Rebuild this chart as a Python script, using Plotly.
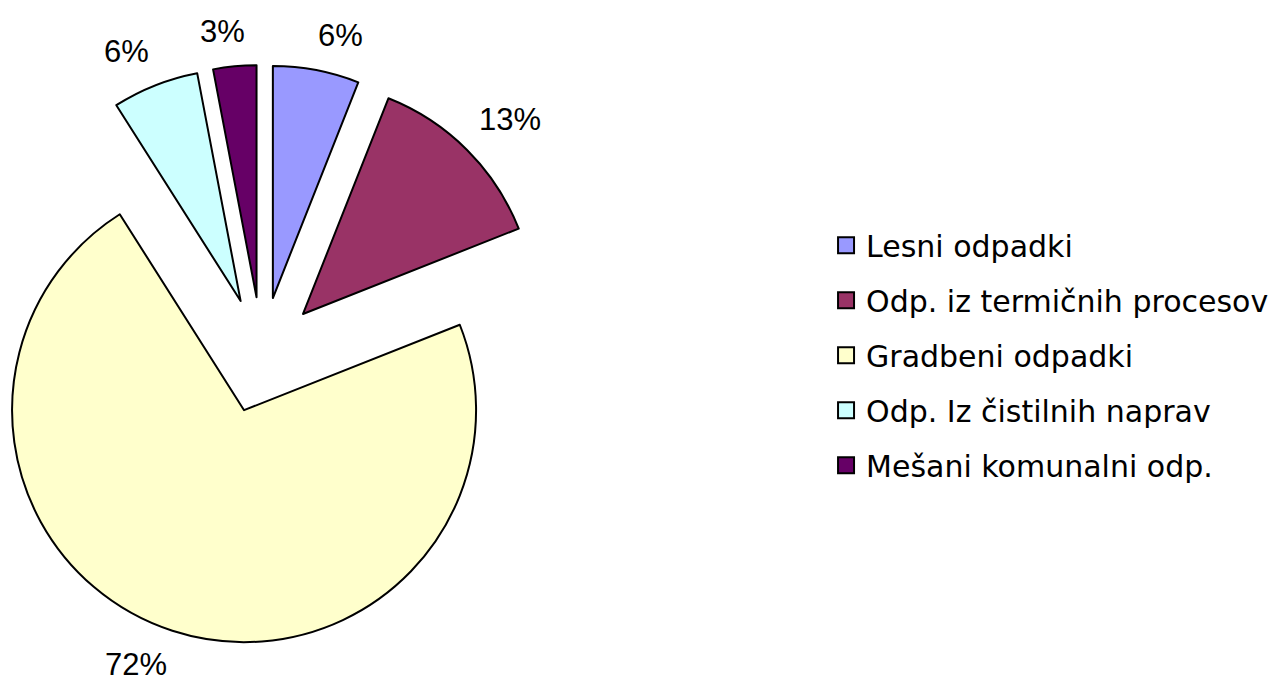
import math

import plotly.graph_objects as go

labels = ['Lesni odpadki', 'Odp. iz termičnih procesov', 'Gradbeni odpadki',
          'Odp. Iz čistilnih naprav', 'Mešani komunalni odp.']
values = [6, 13, 72, 6, 3]
colors = ['#9999FF', '#993366', '#FFFFCC', '#CCFFFF', '#660066']

W, H = 1277, 682
PAGE = 8               # default body margin of the html page
cx, cy = 262 - PAGE, 355 - PAGE   # centre of the un-exploded pie, px
radius = 232
explode = 0.25
label_font = 31
label_gap = 17
label_half_h = 18

fig = go.Figure()
annotations = []

# one pie trace per slice so every exploded slice keeps the full radius
total = sum(values)
cum = 0
for k, v in enumerate(values):
    theta = math.radians(360 * (cum + v / 2) / total)
    cum += v
    dx, dy = math.sin(theta), -math.cos(theta)
    sx = cx + explode * radius * dx
    sy = cy + explode * radius * dy
    own = [i == k for i in range(len(values))]
    fig.add_trace(go.Pie(
        labels=labels, values=values, sort=False, direction='clockwise', rotation=0,
        marker=dict(colors=[c if o else 'rgba(0,0,0,0)' for c, o in zip(colors, own)],
                    line=dict(color='black', width=[2 if o else 0 for o in own])),
        textinfo='none', hoverinfo='skip', showlegend=False,
        domain=dict(x=[max(0, (sx - radius) / W), (sx + radius) / W],
                    y=[(H - sy - radius) / H, (H - sy + radius) / H]),
    ))
    # Excel-like data label just outside the slice, pushed to the slice's side
    txt = f'{round(100 * v / total)}%'
    half_w = (0.556 * (len(txt) - 1) + 0.889) * label_font / 2
    lx = sx + (radius + label_gap) * dx + math.copysign(half_w * min(1, 5 * abs(dx)), dx)
    ly = sy + (radius + label_gap) * dy + math.copysign(label_half_h, dy)
    annotations.append(dict(
        text=txt, xref='paper', yref='paper', showarrow=False,
        x=lx / W, y=1 - ly / H, xanchor='center', yanchor='middle',
        font=dict(size=label_font, color='black', family='Liberation Sans, Arial'),
    ))

# legend entries
for i, (lab, col) in enumerate(zip(labels, colors)):
    fig.add_trace(go.Scatter(
        x=[None], y=[None], mode='markers', name=lab, legendgroup=str(i),
        marker=dict(symbol='square', size=16, color=col, line=dict(color='black', width=2)),
    ))

fig.update_xaxes(visible=False)
fig.update_yaxes(visible=False)
fig.update_layout(
    width=W, height=H,
    margin=dict(l=0, r=0, t=0, b=0),
    paper_bgcolor='white', plot_bgcolor='white',
    font=dict(family='Liberation Sans, Arial', color='black'),
    annotations=annotations,
    legend=dict(x=0.6406, y=0.491, xanchor='left', yanchor='middle',
                font=dict(size=30, family='DejaVu Sans'), tracegroupgap=13,
                traceorder='grouped', bgcolor='rgba(0,0,0,0)'),
)
fig.write_html("out.html")
